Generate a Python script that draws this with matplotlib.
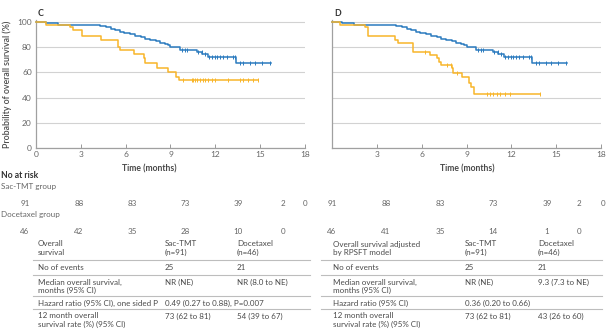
import numpy as np
import matplotlib
matplotlib.use("Agg")
import matplotlib.pyplot as plt

plt.rcParams['font.family'] = ['Lato', 'DejaVu Sans']

# Sac-TMT arm (same curve in both panels): step times (months) and survival (%)
sac_t = [0, 0.7, 1.5, 4.3, 4.7, 5.0, 5.3, 5.6, 5.9, 6.3, 6.6, 7.0, 7.3, 7.6, 8.0,
         8.3, 8.6, 8.8, 9.0, 9.65, 10.8, 11.1, 11.5, 13.4, 15.7]
sac_s = [100, 98.9, 97.8, 96.7, 95.6, 94.5, 93.4, 92.3, 91.2, 90.1, 89.0, 87.9, 86.8,
         85.7, 84.6, 83.5, 82.4, 81.3, 80.2, 77.8, 76.0, 74.4, 72.5, 67.5, 67.5]
sac_cens = [9.75, 9.97, 10.08, 10.87, 11.09, 11.31, 11.6, 11.76, 11.98, 12.1, 12.32,
            12.54, 12.76, 13.2, 13.3, 13.65, 13.88, 14.32, 14.66, 15.1, 15.66]

# Docetaxel arm, overall survival
doc_c_t = [0, 0.7, 2.3, 2.5, 3.05, 4.35, 5.5, 5.65, 6.55, 7.2, 7.3, 8.1, 8.85, 9.35, 9.55, 14.85]
doc_c_s = [100, 97.8, 95.6, 93.4, 89.1, 85.9, 80.4, 77.8, 74.4, 71.2, 67.2, 63.3, 60.6, 56.6, 54.3, 54.3]
doc_c_cens = [9.85, 10.42, 10.53, 10.64, 10.75, 10.98, 11.2, 11.31, 11.53, 11.76, 11.98,
              12.87, 13.65, 13.88, 14.21, 14.55, 14.85]

# Docetaxel arm, RPSFT adjusted
doc_d_t = [0, 0.55, 2.2, 2.43, 4.2, 4.4, 5.45, 6.56, 7.0, 7.18, 7.3, 8.03, 8.1, 8.72,
           9.2, 9.3, 9.5, 13.92]
doc_d_s = [100, 97.8, 95.6, 89.1, 86.0, 83.3, 76.5, 73.8, 71.2, 68.5, 65.9, 63.3, 59.5,
           56.3, 51.3, 48.6, 43.0, 43.0]
doc_d_cens = [6.2, 7.7, 7.95, 8.35, 10.35, 10.58, 10.8, 11.02, 11.24, 11.58, 11.91, 13.92]

risk_sac_c = ['91', '88', '83', '73', '39', '2', '0']
risk_doc_c = ['46', '42', '35', '28', '10', '0']
risk_sac_d = ['91', '88', '83', '73', '39', '2', '0']
risk_doc_d = ['46', '41', '35', '14', '1', '0']

table_c = [
    ['Overall\nsurvival', 'Sac-TMT\n(n=91)', 'Docetaxel\n(n=46)'],
    ['No of events', '25', '21'],
    ['Median overall survival,\nmonths (95% CI)', 'NR (NE)', 'NR (8.0 to NE)'],
    ['Hazard ratio (95% CI), one sided P', '0.49 (0.27 to 0.88), P=0.007', ''],
    ['12 month overall\nsurvival rate (%) (95% CI)', '73 (62 to 81)', '54 (39 to 67)'],
]
table_d = [
    ['Overall survival adjusted\nby RPSFT model', 'Sac-TMT\n(n=91)', 'Docetaxel\n(n=46)'],
    ['No of events', '25', '21'],
    ['Median overall survival,\nmonths (95% CI)', 'NR (NE)', '9.3 (7.3 to NE)'],
    ['Hazard ratio (95% CI)', '0.36 (0.20 to 0.66)', ''],
    ['12 month overall\nsurvival rate (%) (95% CI)', '73 (62 to 81)', '43 (26 to 60)'],
]

BLUE = '#2b7bbf'
ORANGE = '#f8b52a'
TXT = '#4a4a4a'
GREY = '#666666'

W, H = 606, 336
fig = plt.figure(figsize=(W / 100, H / 100), dpi=100)


def px(x, y):
    return x / W, 1 - y / H


def put(x, y, s, **kw):
    kw.setdefault('fontsize', 5.8)
    kw.setdefault('color', TXT)
    kw.setdefault('va', 'center')
    fig.text(*px(x, y), s, **kw)


def surv_at(t, times, surv):
    i = np.searchsorted(times, t, side='right') - 1
    return np.asarray(surv)[i]


def km_panel(x0, letter, doc_t, doc_s, doc_cens, show_y):
    ax = fig.add_axes([x0 / W, 1 - 148 / H, 269 / W, 128 / H])
    ax.set_xlim(0, 18)
    ax.set_ylim(0, 101.5)
    for t, s, cens, c in [(sac_t, sac_s, sac_cens, BLUE), (doc_t, doc_s, doc_cens, ORANGE)]:
        ax.step(t, s, where='post', color=c, lw=1.1, zorder=3, clip_on=False)
        ax.plot(cens, [surv_at(v, t, s) for v in cens], ls='none', marker='|',
                ms=3.5, mew=0.7, color=c, zorder=3, clip_on=False)
    ax.set_yticks([0, 20, 40, 60, 80, 100])
    ax.yaxis.grid(True, color='#d2d2d2', lw=0.8)
    ax.set_axisbelow(True)
    ax.set_xticks(range(0, 19, 3))
    if show_y:
        ax.set_xticklabels([str(v) for v in range(0, 19, 3)])
    else:
        ax.set_xticklabels([''] + [str(v) for v in range(3, 19, 3)])
        ax.set_yticklabels([])
    ax.tick_params(axis='x', direction='in', length=3, width=0.7, color='#999999',
                   labelsize=6.0, labelcolor=GREY, pad=2)
    ax.tick_params(axis='y', length=0, labelsize=6.0, labelcolor=GREY, pad=3)
    for k in ['top', 'right']:
        ax.spines[k].set_visible(False)
    for k in ['left', 'bottom']:
        ax.spines[k].set_color('#a0a0a0')
        ax.spines[k].set_linewidth(0.9)
    put(x0 + 2, 14, letter, fontweight='bold', fontsize=6.3, color='#333333')
    return ax


km_panel(36, 'C', doc_c_t, doc_c_s, doc_c_cens, True)
km_panel(332, 'D', doc_d_t, doc_d_s, doc_d_cens, False)

put(7, 84, 'Probability of overall survival (%)', rotation=90, ha='center',
    fontweight='semibold', fontsize=6.3)
put(149, 169, 'Time (months)', ha='center', fontweight='bold', fontsize=6.2)
put(467, 169, 'Time (months)', ha='center', fontweight='bold', fontsize=6.2)

# numbers at risk
put(1, 175, 'No at risk', fontweight='bold', fontsize=6.2, color='#333333')
put(1, 187, 'Sac-TMT group', color=GREY)
put(1, 215, 'Docetaxel group', color=GREY)
risk_x_c = [25, 79, 132, 185, 238, 283, 305]
risk_x_d = [332, 386, 440, 493, 547, 579, 603]
for xs, top, bottom in [(risk_x_c, risk_sac_c, risk_doc_c), (risk_x_d, risk_sac_d, risk_doc_d)]:
    for x, s in zip(xs, top):
        put(x, 203, s, ha='center', color=GREY)
    for x, s in zip(xs, bottom):
        put(x, 232, s, ha='center', color=GREY)

# summary tables
row_y = [244, 268, 282, 303, 316]
rule_y = [260, 275, 296, 309]
for cols, line_x, rows in [([38, 165, 237], (33, 310), table_c),
                           ([333, 465, 538], (321, 602), table_d)]:
    for y, row in zip(row_y, rows):
        for x, cell in zip(cols, row):
            for i, line in enumerate(cell.split('\n')):
                put(x, y + i * 8.5, line)
    for y in rule_y:
        fig.add_artist(plt.Line2D([line_x[0] / W, line_x[1] / W], [1 - y / H] * 2,
                                  color='#bdbdbd', lw=0.8))

fig.savefig('out.png', dpi=100)
